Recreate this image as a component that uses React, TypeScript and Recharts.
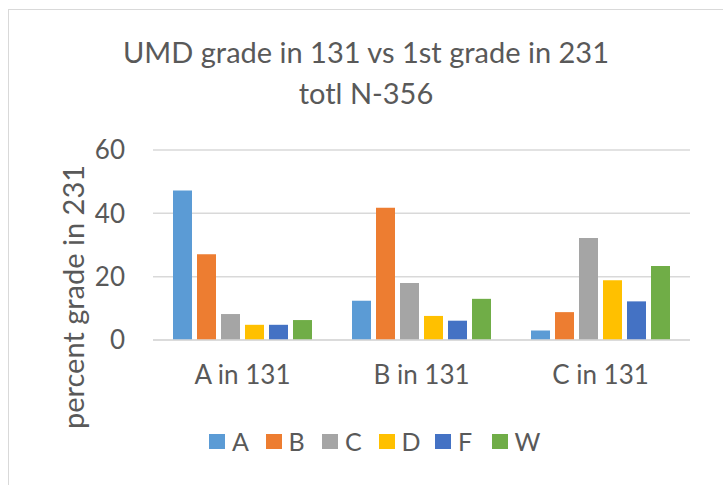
import React from 'react';
import { BarChart, Bar, XAxis, YAxis, CartesianGrid } from 'recharts';

const categories = ['A in 131', 'B in 131', 'C in 131'];
const gradeA = [47.2, 12.4, 3.0];
const gradeB = [27.1, 41.8, 8.8];
const gradeC = [8.2, 18.0, 32.2];
const gradeD = [4.8, 7.6, 18.9];
const gradeF = [4.8, 6.1, 12.2];
const gradeW = [6.3, 13.0, 23.4];
const yTicks = [0, 20, 40, 60];

const series = [
  { key: 'A', values: gradeA, color: '#5B9BD5' },
  { key: 'B', values: gradeB, color: '#ED7D31' },
  { key: 'C', values: gradeC, color: '#A5A5A5' },
  { key: 'D', values: gradeD, color: '#FFC000' },
  { key: 'F', values: gradeF, color: '#4472C4' },
  { key: 'W', values: gradeW, color: '#70AD47' },
];

const data = categories.map((name, i) => {
  const row: { [key: string]: any } = { name };
  series.forEach((s) => {
    row[s.key] = s.values[i];
  });
  return row;
});

const FONT = 'Lato, "Open Sans", sans-serif';
const TEXT = '#595959';

export default function App() {
  return (
    <div
      style={{
        position: 'fixed',
        left: 0,
        top: 0,
        width: 723,
        height: 485,
        background: '#fff',
        overflow: 'hidden',
        fontFamily: FONT,
        color: TEXT,
      }}
    >
      {/* frame */}
      <div
        style={{
          position: 'absolute',
          left: 8,
          top: 9,
          width: 800,
          height: 600,
          border: '1.5px solid #D9D9D9',
        }}
      />
      <div
        style={{
          position: 'absolute',
          left: 0,
          top: 31,
          width: 732,
          textAlign: 'center',
          fontSize: 29,
          lineHeight: '41px',
        }}
      >
        UMD grade in 131 vs 1st grade in 231
        <br />
        totl N-356
      </div>
      <div
        style={{
          position: 'absolute',
          left: 72,
          top: 297,
          transform: 'translate(-50%, -50%) rotate(-90deg)',
          fontSize: 29,
          whiteSpace: 'nowrap',
        }}
      >
        percent grade in 231
      </div>
      <div style={{ position: 'absolute', left: 0, top: 0 }}>
        <BarChart
          width={723}
          height={485}
          data={data}
          margin={{ top: 150, right: 33, left: 73, bottom: 85 }}
          barCategoryGap={20}
          barGap={5}
        >
          <CartesianGrid vertical={false} stroke="#D9D9D9" strokeWidth={1.5} />
          <XAxis
            dataKey="name"
            height={60}
            tickLine={false}
            tickSize={0}
            tickMargin={26}
            axisLine={{ stroke: '#D9D9D9', strokeWidth: 1.5 }}
            tick={{ fill: TEXT, fontSize: 26, fontFamily: FONT }}
          />
          <YAxis
            width={80}
            domain={[0, 60]}
            ticks={yTicks}
            tickLine={false}
            axisLine={false}
            tickSize={0}
            tickMargin={28}
            tick={{ fill: TEXT, fontSize: 26, fontFamily: FONT }}
          />
          {series.map((s) => (
            <Bar key={s.key} dataKey={s.key} fill={s.color} isAnimationActive={false} />
          ))}
        </BarChart>
      </div>
      <div
        style={{
          position: 'absolute',
          left: 209,
          top: 426,
          display: 'flex',
          alignItems: 'center',
          fontSize: 25,
        }}
      >
        {series.map((s) => (
          <div key={s.key} style={{ display: 'flex', alignItems: 'center', width: 56.5 }}>
            <span style={{ width: 16, height: 15, background: s.color, marginRight: 7 }} />
            <span>{s.key}</span>
          </div>
        ))}
      </div>
    </div>
  );
}
